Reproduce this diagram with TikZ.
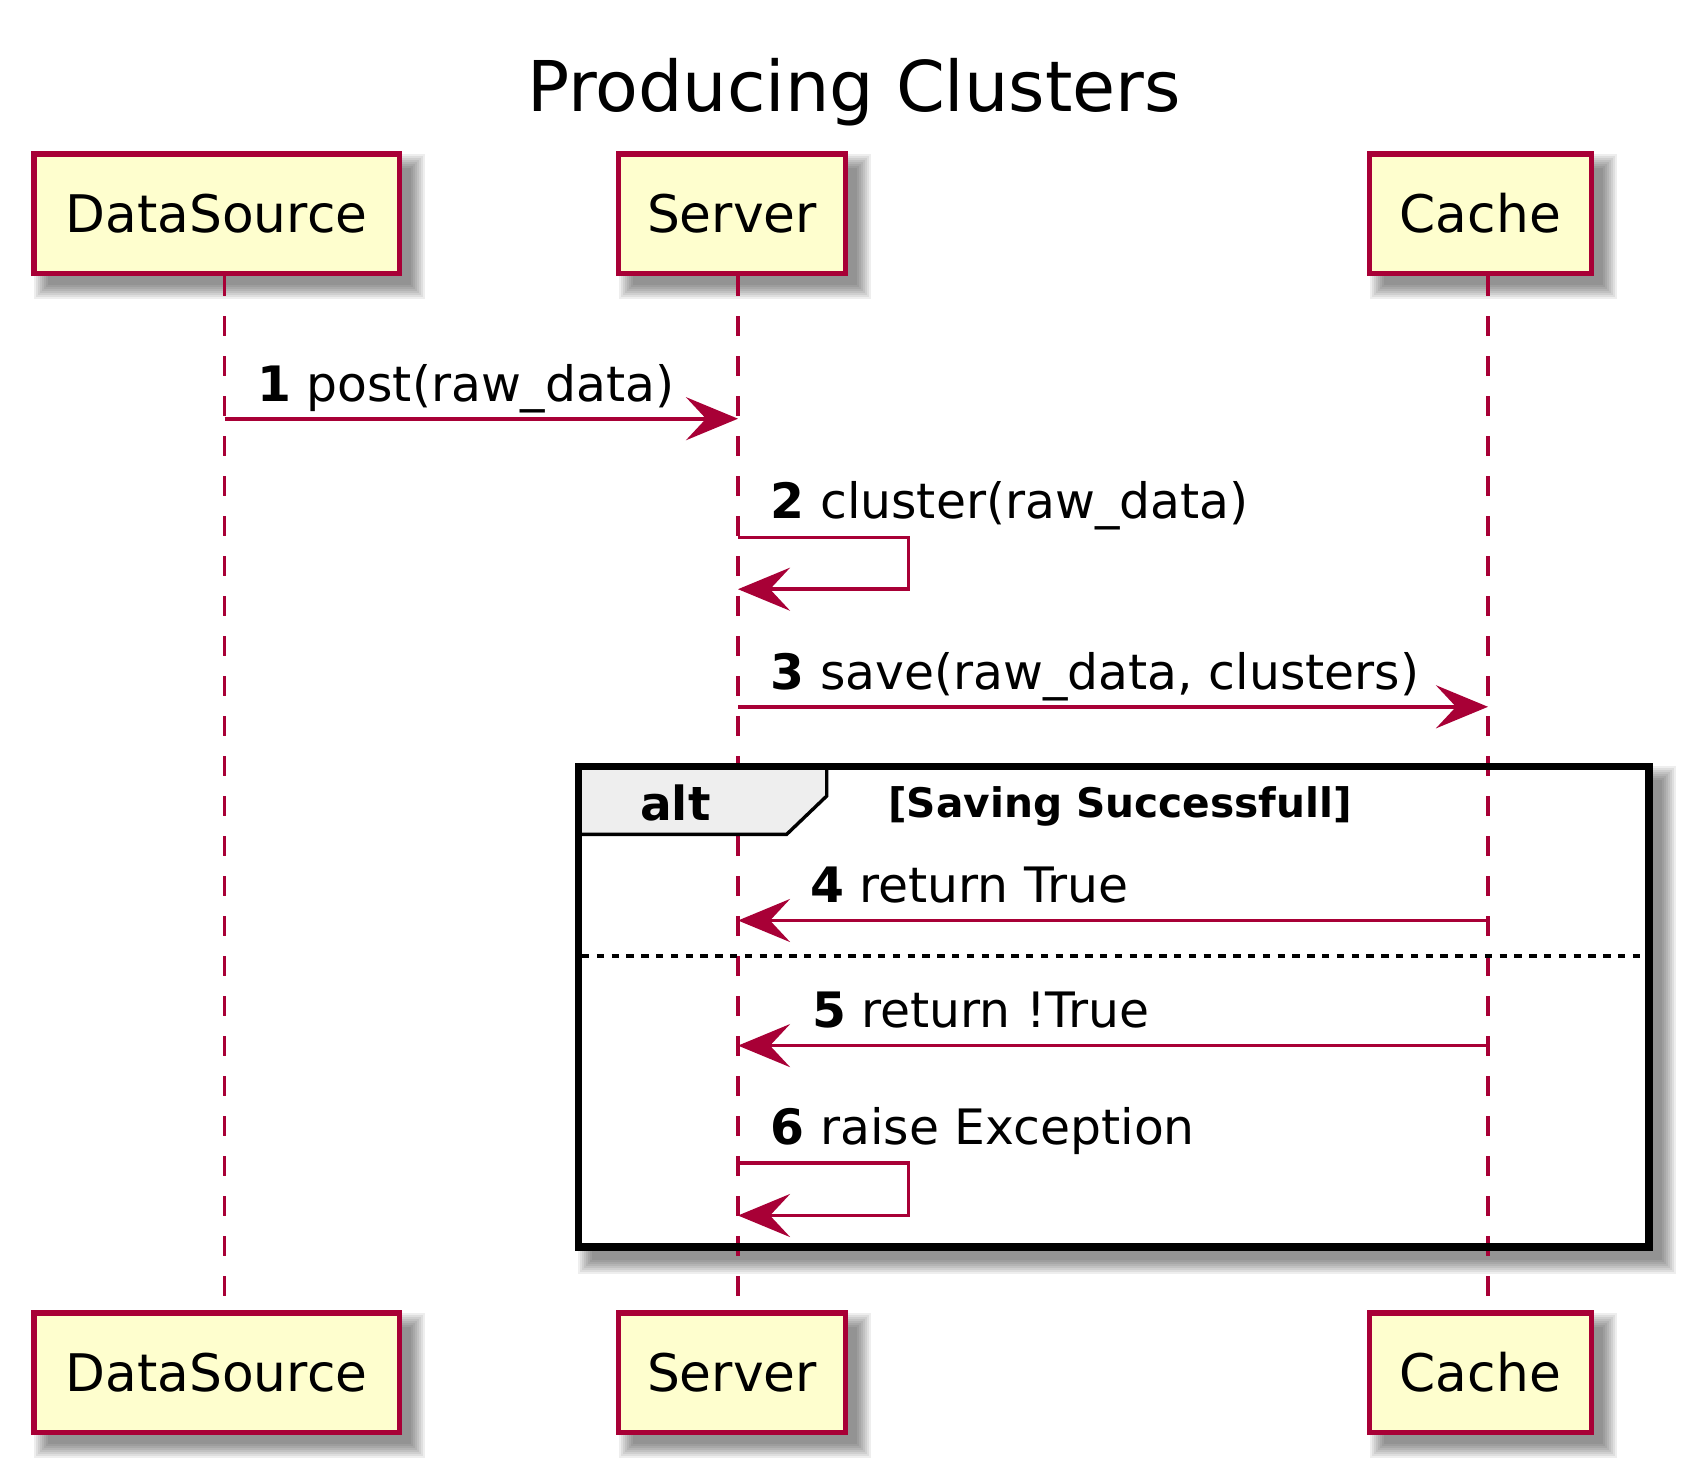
\documentclass[tikz,border=0pt]{standalone}
\usepackage{fontspec}
\setmainfont{DejaVu Sans}
\usetikzlibrary{arrows.meta}
\definecolor{pumlred}{HTML}{A80036}
\definecolor{pumlfill}{HTML}{FEFECE}
\definecolor{pumltab}{HTML}{EEEEEE}
\newcommand\pumlshadow[4]{%
  \foreach \r in {10,8,6,4,2,0,-2,-4}{%
    \fill[black,opacity=0.065] ({#1+13-(\r)},{#2+13-(\r)}) rectangle ({#3+13+(\r)},{#4+13+(\r)});
  }}
\begin{document}
\begin{tikzpicture}[x=1pt,y=-1pt,
  pbox/.style={draw=pumlred, fill=pumlfill, line width=5.5pt, inner sep=0pt,
    minimum height=119.5pt, font=\fontsize{51.8}{62}\selectfont},
  lifeline/.style={draw=pumlred, line width=3.8pt, dash pattern=on 20pt off 20pt},
  msg/.style={draw=pumlred, line width=3.7pt, line join=miter,
    -{Stealth[length=52pt,width=43pt,inset=20pt]}},
  msglabel/.style={anchor=base west, inner sep=0pt, font=\fontsize{48.8}{58}\selectfont},
  framebox/.style={draw=black, line width=7.4pt, inner sep=0pt},
  tabshape/.style={draw=black, fill=pumltab, line width=3.4pt},
  sep/.style={draw=black, line width=3.7pt, dash pattern=on 7.4pt off 7.4pt},
  titlestyle/.style={anchor=base, inner sep=0pt, font=\fontsize{70}{84}\selectfont}
]
\useasboundingbox (0,0) rectangle (1692,1473);

% title
\node[titlestyle] (title) at (854,111) {Producing Clusters};

% shadows
\pumlshadow{31}{151}{402}{276}
\pumlshadow{615.7}{151}{848.3}{276}
\pumlshadow{1366.7}{151}{1594}{276}
\pumlshadow{31}{1310}{402}{1435}
\pumlshadow{615.7}{1310}{848.3}{1435}
\pumlshadow{1366.7}{1310}{1594}{1435}
\pumlshadow{574.6}{763}{1652.7}{1250.7}
\fill[white] (578.3,766.7) rectangle (1649,1247);

% lifeline ends
\coordinate (dsA) at (224.5,276);
\coordinate (dsB) at (224.5,1310);
\coordinate (svA) at (738,276);
\coordinate (svB) at (738,1310);
\coordinate (caA) at (1488,276);
\coordinate (caB) at (1488,1310);
\draw[lifeline] (dsA) -- (dsB);
\draw[lifeline] (svA) -- (svB);
\draw[lifeline] (caA) -- (caB);

% participants
\node[pbox, minimum width=365.5pt] (dsT) at (216.5,213.5) {DataSource};
\node[pbox, minimum width=227pt] (svT) at (732,213.5) {Server};
\node[pbox, minimum width=222pt] (caT) at (1480.3,213.5) {Cache};
\node[pbox, minimum width=365.5pt] (dsBot) at (216.5,1372.5) {DataSource};
\node[pbox, minimum width=227pt] (svBot) at (732,1372.5) {Server};
\node[pbox, minimum width=222pt] (caBot) at (1480.3,1372.5) {Cache};

% alt frame
\draw[tabshape] (578.3,766.7) -- (826.7,766.7) -- (826.7,796) -- (786.7,834.3) -- (578.3,834.3) -- cycle;
\node[framebox, minimum width=1070.7pt, minimum height=480.3pt] (alt) at (1113.65,1006.85) {};
\node[anchor=base west, inner sep=0pt, font=\fontsize{47}{56}\selectfont\bfseries] (altlabel) at (640,820) {alt};
\node[anchor=base west, inner sep=0pt, font=\fontsize{40.7}{50}\selectfont\bfseries] (guard) at (888,817) {[Saving Successfull]};
\coordinate (sepA) at (582,956);
\coordinate (sepB) at (1645,956);
\draw[sep] (sepA) -- (sepB);

% message 1
\coordinate (m1a) at (224.5,418.7);
\coordinate (m1b) at (738,418.7);
\draw[msg] (m1a) -- (m1b);
\node[msglabel] (l1) at (257,401) {\textbf{1} post(raw\_data)};

% message 2 (self)
\coordinate (m2a) at (738,537.4);
\coordinate (m2b) at (908.6,537.4);
\coordinate (m2c) at (908.6,589.2);
\coordinate (m2d) at (738,589.2);
\draw[msg] (m2a) -- (m2b) -- (m2c) -- (m2d);
\node[msglabel] (l2) at (770.5,518) {\textbf{2} cluster(raw\_data)};

% message 3
\coordinate (m3a) at (738,706.8);
\coordinate (m3b) at (1488,706.8);
\draw[msg] (m3a) -- (m3b);
\node[msglabel] (l3) at (770.5,689) {\textbf{3} save(raw\_data, clusters)};

% message 4
\coordinate (m4a) at (1488,920.5);
\coordinate (m4b) at (738,920.5);
\draw[msg] (m4a) -- (m4b);
\node[msglabel] (l4) at (810,902) {\textbf{4} return True};

% message 5
\coordinate (m5a) at (1488,1045.6);
\coordinate (m5b) at (738,1045.6);
\draw[msg] (m5a) -- (m5b);
\node[msglabel] (l5) at (812,1027.5) {\textbf{5} return !True};

% message 6 (self)
\coordinate (m6a) at (738,1163.3);
\coordinate (m6b) at (908.6,1163.3);
\coordinate (m6c) at (908.6,1215.5);
\coordinate (m6d) at (738,1215.5);
\draw[msg] (m6a) -- (m6b) -- (m6c) -- (m6d);
\node[msglabel] (l6) at (770.5,1144) {\textbf{6} raise Exception};
\end{tikzpicture}
\end{document}
